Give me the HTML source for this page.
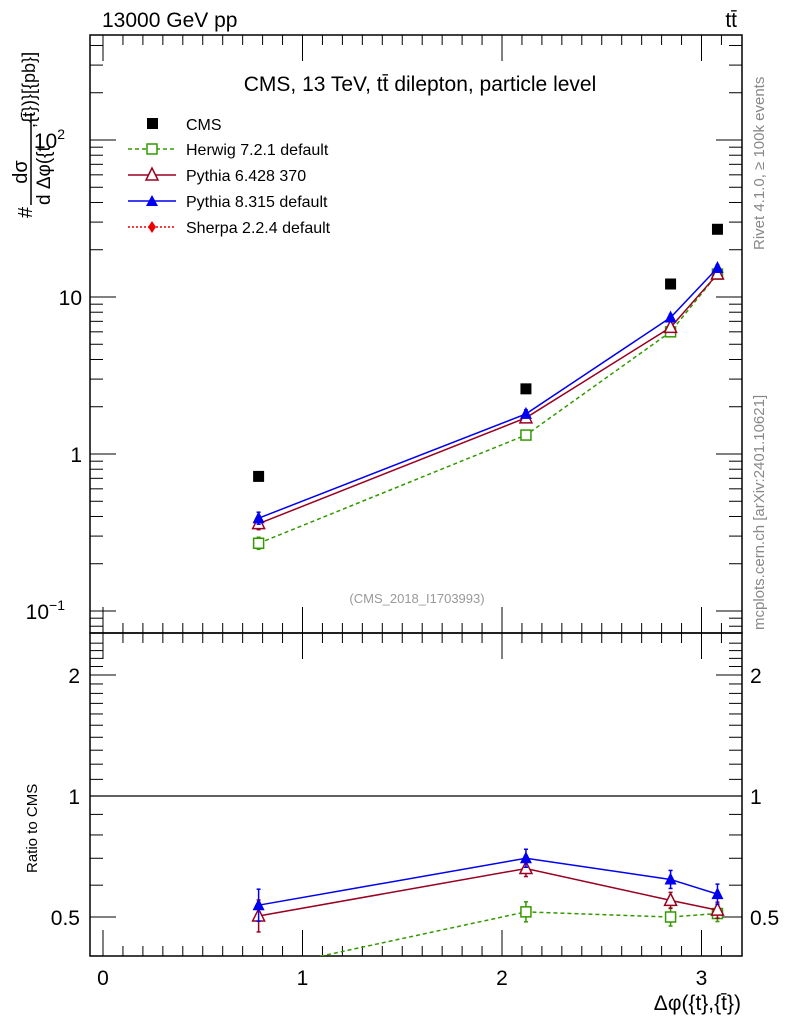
<!DOCTYPE html>
<html><head><meta charset="utf-8">
<style>
body{margin:0;background:#fff;}
svg{display:block;font-family:"Liberation Sans",sans-serif;}
</style></head>
<body>
<svg id="c" width="786" height="1024" xmlns="http://www.w3.org/2000/svg">
<rect width="786" height="1024" fill="#fff"/>
<text x="102" y="27" font-size="21">13000 GeV pp</text>
<text x="737" y="27" font-size="21" text-anchor="end">tt̄</text>
<text x="420" y="91" font-size="21" text-anchor="middle">CMS, 13 TeV, tt̄ dilepton, particle level</text>
<text x="417" y="603" font-size="13" fill="#999" text-anchor="middle">(CMS_2018_I1703993)</text>
<text transform="translate(764,250) rotate(-90)" font-size="15" fill="#888">Rivet 4.1.0, ≥ 100k events</text>
<text transform="translate(764,630) rotate(-90)" font-size="15" fill="#888">mcplots.cern.ch [arXiv:2401.10621]</text>
<g>
 <text transform="translate(32,218) rotate(-90)" font-size="20">#</text>
 <text transform="translate(27,172) rotate(-90)" font-size="20" text-anchor="middle">dσ</text>
 <line x1="31" y1="205" x2="31" y2="113" stroke="#000" stroke-width="1.5"/>
 <text transform="translate(50,205) rotate(-90)" font-size="19">d Δφ({t</text>
 <text transform="translate(35,128) rotate(-90)" font-size="18">,{t̄})}[{pb}]</text>
</g>
<text transform="translate(37,873) rotate(-90)" font-size="15">Ratio to CMS</text>
<text x="741" y="1010" font-size="21" text-anchor="end">Δφ({t},{t̄})</text>
<g id="g"></g>
<g>
 <rect x="147" y="118" width="11" height="11" fill="#000"/>
 <text x="186" y="130" font-size="16">CMS</text>
 <line x1="128" y1="149" x2="176" y2="149" stroke="#339900" stroke-width="1.4" stroke-dasharray="4,3"/>
 <rect x="147" y="144" width="10" height="10" fill="#fff" stroke="#339900" stroke-width="1.5"/>
 <text x="186" y="155" font-size="16">Herwig 7.2.1 default</text>
 <line x1="128" y1="175" x2="176" y2="175" stroke="#990022" stroke-width="1.5"/>
 <polygon points="152,168 146,180 158,180" fill="#fff" stroke="#990022" stroke-width="1.5"/>
 <text x="186" y="181" font-size="16">Pythia 6.428 370</text>
 <line x1="128" y1="201" x2="176" y2="201" stroke="#0000ee" stroke-width="1.5"/>
 <polygon points="152,195 146,206 158,206" fill="#0000ee"/>
 <text x="186" y="207" font-size="16">Pythia 8.315 default</text>
 <line x1="128" y1="227" x2="176" y2="227" stroke="#ee0000" stroke-width="1.4" stroke-dasharray="2,2"/>
 <polygon points="152,221 156,227 152,233 148,227" fill="#ee0000"/>
 <text x="186" y="233" font-size="16">Sherpa 2.2.4 default</text>
</g>
</svg>
<script>
const xVals=[0.78,2.12,2.845,3.08];
const cms=[0.72,2.6,12.1,27];
const herwig=[0.27,1.32,6.0,14.0];
const pythia6=[0.36,1.7,6.4,14.0];
const pythia8=[0.39,1.8,7.4,15.3];
const herwigRatio=[0.37,0.515,0.50,0.51];
const pythia6Ratio=[0.503,0.66,0.55,0.52];
const pythia8Ratio=[0.535,0.70,0.62,0.57];
const xTicks=[0,1,2,3];
const ratioTicks=[0.5,1,2];
const NS="http://www.w3.org/2000/svg";
const g=document.getElementById('g');
const L=90,R=742,T1=35,B1=633,T2=633,B2=956;
const X=v=>103+199.5*v;
const Y=v=>454-157*Math.log10(v);
const YR=v=>796-121*Math.log2(v);
function mk(tag,at,parent){const e=document.createElementNS(NS,tag);for(const k in at)e.setAttribute(k,at[k]);(parent||g).appendChild(e);return e;}
const defs=mk('defs',{});
const c1=mk('clipPath',{id:'c1'},defs);mk('rect',{x:L,y:T1,width:R-L,height:B1-T1},c1);
const c2=mk('clipPath',{id:'c2'},defs);mk('rect',{x:L,y:T2,width:R-L,height:B2-T2},c2);
let f=mk('rect',{x:L,y:T1,width:R-L,height:B1-T1,fill:'none',stroke:'#000','stroke-width':1.5});

f=mk('rect',{x:L,y:T2,width:R-L,height:B2-T2,fill:'none',stroke:'#000','stroke-width':1.5});

for(let v=0;v<=3.2;v+=0.1){const x=X(v);if(x<L||x>R)continue;const maj=Math.abs(v-Math.round(v))<1e-6;const len=maj?26:10;
 for(const [yb,yt] of [[B1,T1],[B2,T2]]){mk('line',{x1:x,y1:yb,x2:x,y2:yb-len,stroke:'#000'});mk('line',{x1:x,y1:yt,x2:x,y2:yt+len,stroke:'#000'});}}
xTicks.forEach(v=>{const t=mk('text',{x:X(v),y:985,'font-size':21,'text-anchor':'middle'});t.textContent=v;
 });
for(let e=-2;e<=2;e++)for(let m=1;m<10;m++){const v=m*Math.pow(10,e);const y=Y(v);if(y<T1||y>B1)continue;const len=m==1?26:13;
 mk('line',{x1:L,y1:y,x2:L+len,y2:y,stroke:'#000'});mk('line',{x1:R,y1:y,x2:R-len,y2:y,stroke:'#000'});}
[[100,'10','2'],[10,'10',''],[1,'1',''],[0.1,'10','−1']].forEach(([v,b,s])=>{const t=mk('text',{x:s?65:82,y:Y(v)+8,'font-size':21,'text-anchor':'end'});
 t.textContent=b;if(s){const ts=mk('tspan',{dy:-9,'font-size':14},t);ts.textContent=s;}
 });
for(let v=0.4;v<=2.5;v+=0.1){const y=YR(v);if(y<T2||y>B2)continue;const maj=[0.5,1,2].some(a=>Math.abs(a-v)<1e-6);const len=maj?26:13;
 mk('line',{x1:L,y1:y,x2:L+len,y2:y,stroke:'#000'});mk('line',{x1:R,y1:y,x2:R-len,y2:y,stroke:'#000'});}
ratioTicks.forEach(v=>{let t=mk('text',{x:80,y:YR(v)+8,'font-size':21,'text-anchor':'end'});t.textContent=v;
 
 t=mk('text',{x:750,y:YR(v)+8,'font-size':21});t.textContent=v;
 });
let ref=mk('line',{x1:L,y1:YR(1),x2:R,y2:YR(1),stroke:'#000','stroke-width':1.3});

function marker(kind,col,x,y,parent,name){let e;
 if(kind=='sq')e=mk('rect',{x:x-5,y:y-5,width:10,height:10,fill:'#fff',stroke:col,'stroke-width':1.5},parent);
 else if(kind=='tri')e=mk('polygon',{points:`${x},${y-7} ${x-6},${y+5} ${x+6},${y+5}`,fill:'#fff',stroke:col,'stroke-width':1.5},parent);
 else e=mk('polygon',{points:`${x},${y-7} ${x-6},${y+5} ${x+6},${y+5}`,fill:col},parent);
 }
function series(vals,fy,clip,col,dash,kind,name,err){const grp=mk('g',{'clip-path':`url(#${clip})`});
 
 const pts=vals.map((v,i)=>X(xVals[i])+','+fy(v)).join(' ');
 const at={points:pts,fill:'none',stroke:col,'stroke-width':1.5};if(dash)at['stroke-dasharray']=dash;mk('polyline',at,grp);
 vals.forEach((v,i)=>{const x=X(xVals[i]),y=fy(v);const e=err[i];
  mk('line',{x1:x,y1:y-e,x2:x,y2:y+e,stroke:col,'stroke-width':1.5},grp);
  mk('line',{x1:x-2,y1:y-e,x2:x+2,y2:y-e,stroke:col,'stroke-width':1.5},grp);
  mk('line',{x1:x-2,y1:y+e,x2:x+2,y2:y+e,stroke:col,'stroke-width':1.5},grp);
  marker(kind,col,x,y,grp,name+'-point');});}
series(herwig,Y,'c1','#339900','4,3','sq','herwig-main',[6,4,3,3]);
series(pythia6,Y,'c1','#990022',null,'tri','pythia6-main',[6,4,3,3]);
series(pythia8,Y,'c1','#0000ee',null,'ftri','pythia8-main',[6,4,3,3]);
series(herwigRatio,YR,'c2','#339900','4,3','sq','herwig-ratio',[10,10,9,8]);
series(pythia6Ratio,YR,'c2','#990022',null,'tri','pythia6-ratio',[16,8,8,8]);
series(pythia8Ratio,YR,'c2','#0000ee',null,'ftri','pythia8-ratio',[16,9,9,10]);
cms.forEach((v,i)=>{const r=mk('rect',{x:X(xVals[i])-5.5,y:Y(v)-5.5,width:11,height:11,fill:'#000'});
 });
</script>
</body></html>
